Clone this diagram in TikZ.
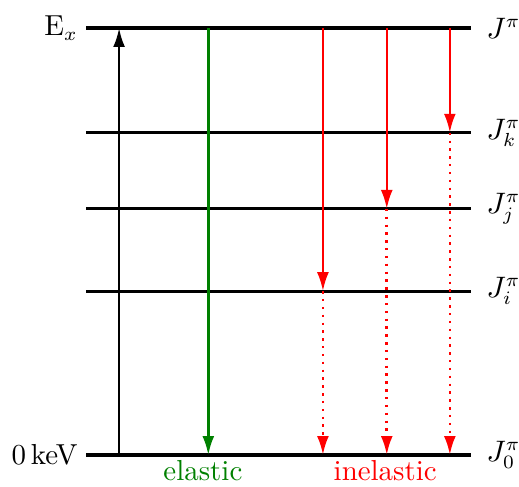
\documentclass[tikz,border=0pt]{standalone}
\usetikzlibrary{arrows.meta}
\begin{document}
\begin{tikzpicture}[font=\fontsize{10.7}{13}\selectfont,
    lvl/.style={very thick},
    trans/.style={line width=0.9pt,-{Latex[length=7pt,width=4.4pt]}},
    tail/.style={line width=1pt,dash pattern=on 0.9pt off 2pt,-{Latex[length=7pt,width=4.4pt]}}]
  \useasboundingbox (-1.118,-0.403) rectangle (5.629,5.915);
  % levels
  \coordinate (gs) at (0,0);
  \coordinate (li) at (0,2.13);
  \coordinate (lj) at (0,3.2);
  \coordinate (lk) at (0,4.19);
  \coordinate (ex) at (0,5.55);
  \draw[lvl] (gs) node[left,inner sep=2.5pt] (gslab) {0\,keV} -- ++(5,0) node[right=2pt] (j0) {$J^\pi_0$};
  \draw[lvl] (li) -- ++(5,0) node[right=2pt] (ji) {$J^\pi_i$};
  \draw[lvl] (lj) -- ++(5,0) node[right=2pt] (jj) {$J^\pi_j$};
  \draw[lvl] (lk) -- ++(5,0) node[right=2pt] (jk) {$J^\pi_k$};
  \draw[lvl] (ex) node[left,inner sep=2.5pt] (exlab) {E$_x$} -- ++(5,0) node[right=2pt] (jx) {$J^\pi$};
  % columns
  \coordinate (cexc) at (0.43,0);
  \coordinate (cel) at (1.59,0);
  \coordinate (ca) at (3.08,0);
  \coordinate (cb) at (3.91,0);
  \coordinate (cc) at (4.73,0);
  % excitation and decays
  \draw[trans] (cexc |- gs) -- (cexc |- ex);
  \draw[trans,green!50!black] (cel |- ex) -- (cel |- gs);
  \draw[trans,red] (ca |- ex) -- (ca |- li);
  \draw[trans,red] (cb |- ex) -- (cb |- lj);
  \draw[trans,red] (cc |- ex) -- (cc |- lk);
  \draw[tail,red] (ca |- li) -- (ca |- gs);
  \draw[tail,red] (cb |- lj) -- (cb |- gs);
  \draw[tail,red] (cc |- lk) -- (cc |- gs);
  % labels
  \node[anchor=base,green!50!black] (ellab) at (1.52,-0.33) {elastic};
  \node[anchor=base,red] (inlab) at (3.89,-0.33) {inelastic};
\end{tikzpicture}
\end{document}
